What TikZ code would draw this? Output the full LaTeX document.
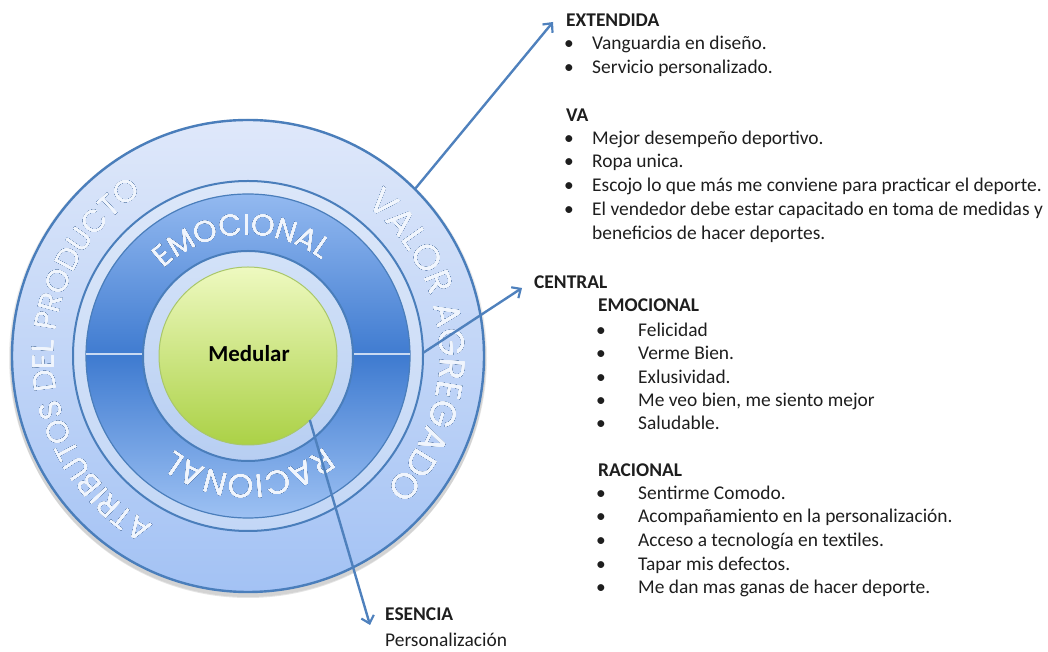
\documentclass[tikz,border=0pt]{standalone}
\usepackage{fontspec}
\setmainfont{Carlito}
\newfontfamily\arcfont{Poppins}
\usetikzlibrary{arrows.meta,decorations.text}
\definecolor{ringline}{HTML}{4A7EBB}
\definecolor{outtop}{HTML}{DFE8FA}
\definecolor{outbot}{HTML}{A3C2F4}
\definecolor{midtop}{HTML}{DCE7F9}
\definecolor{midbot}{HTML}{C3D7F6}
\definecolor{ringA}{HTML}{93B9F0}
\definecolor{ringB}{HTML}{3F7BD0}
\definecolor{ringC}{HTML}{9DC1F3}
\definecolor{inntop}{HTML}{D3E2F8}
\definecolor{innbot}{HTML}{B7CEF2}
\definecolor{grtop}{HTML}{EEF9C0}
\definecolor{grbot}{HTML}{ABD146}
\definecolor{grline}{HTML}{A9C76A}
\definecolor{arrowc}{HTML}{4F81BD}
\definecolor{arcline}{HTML}{1F4E8C}
\definecolor{arcfill}{HTML}{F0F5FD}
\definecolor{arcglow}{HTML}{E4EDFB}
\definecolor{divc}{HTML}{C9D9F2}
\definecolor{txtc}{HTML}{1E1E1E}
\tikzset{
  txt/.style={anchor=base west, inner sep=0pt, font=\fontsize{19.5}{23}\selectfont, text=txtc},
  hdr/.style={anchor=base west, inner sep=0pt, font=\fontsize{19.5}{23}\selectfont\bfseries, text=txtc},
  bul/.style={anchor=base, inner sep=0pt, font=\fontsize{19.5}{23}\selectfont, text=txtc},
  conn/.style={draw=arrowc, line width=2.4bp, -{Straight Barb[length=7bp,width=13bp,line width=2.2bp]}},
  ringdraw/.style={draw=ringline, line width=2bp},
}
\newcommand\arclayer[6]{% #1 offset radius, #2 colour, #3 font size, #4 radius, #5 start, #6 end ; text in \arcstr
  \path[shift={#1}, decorate, decoration={text along path, text align=center,
      text/.expanded={|\noexpand\arcfont\noexpand\fontsize{#3}{#3}\noexpand\selectfont\noexpand\color{#2}|\arcstr}}]
      (c) ++(#5:#4) arc[start angle=#5, end angle=#6, radius=#4];
}
\newcommand\arctext[5]{% #1 font size, #2 radius, #3 start angle, #4 end angle, #5 text
  \def\arcstr{#5}%
  \begin{scope}[opacity=0.4]
  \foreach \sa in {0,45,...,315}{\arclayer{(\sa:4.2bp)}{arcglow}{#1}{#2}{#3}{#4}}
  \end{scope}
  \foreach \sa in {0,30,...,330}{\arclayer{(\sa:2.5bp)}{arcline}{#1}{#2}{#3}{#4}}
  \foreach \sa in {0,45,...,315}{\arclayer{(\sa:1.3bp)}{arcline}{#1}{#2}{#3}{#4}}
  \foreach \sa in {0,90,180,270}{\arclayer{(\sa:0.6bp)}{arcfill}{#1}{#2}{#3}{#4}}
  \arclayer{(0,0)}{arcfill}{#1}{#2}{#3}{#4}
}
\begin{document}
\begin{tikzpicture}[x=1bp,y=1bp]
\useasboundingbox (0,0) rectangle (1048,652);
\coordinate (c) at (248,296);
% shadow
\fill[black, opacity=0.10] (248,292) circle (238);
\fill[black, opacity=0.08] (248,294) circle (239);
% outer disk
\shade[top color=outtop, bottom color=outbot] (c) circle (236);
\draw[draw=ringline, line width=2.4bp] (c) circle (236);
% middle disk
\shade[top color=midtop, bottom color=midbot] (c) circle (175);
\draw[ringdraw] (c) circle (175);
% dark ring halves
\shade[top color=ringA, bottom color=ringB]
  (c) ++(162,0) arc[start angle=0, end angle=180, radius=162] -- ++(57,0)
  arc[start angle=180, end angle=0, radius=105] -- cycle;
\shade[top color=ringB, bottom color=ringC]
  (c) ++(162,0) arc[start angle=0, end angle=-180, radius=162] -- ++(57,0)
  arc[start angle=-180, end angle=0, radius=105] -- cycle;
\draw[draw=ringline, line width=1.2bp] (c) circle (162);
\draw[divc, line width=2bp] (c) ++(-162,2) -- ++(57,0);
\draw[divc, line width=2bp] (c) ++(105,2) -- ++(57,0);
% inner disk
\shade[top color=inntop, bottom color=innbot] (c) circle (105);
\draw[ringdraw] (c) circle (105);
% green core
\shade[top color=grtop, bottom color=grbot] (c) circle (89);
\draw[grline, line width=1bp] (c) circle (89);
\node[font=\fontsize{23}{23}\selectfont\bfseries, text=black] (med) at (249,298) {Medular};
% arc texts
\arctext{31}{194}{262}{102}{ATRIBUTOS DEL PRODUCTO}
\arctext{36}{192}{84}{-76}{VALOR AGREGADO}
\arctext{30}{121}{153}{33}{EMOCIONAL}
\arctext{33}{119}{-29}{-149}{RACIONAL}
% connector end points
\coordinate (s1) at ([shift={(45:236)}]c);
\coordinate (e1) at (553,630);
\coordinate (s2) at ([shift={(1:175)}]c);
\coordinate (e2) at (522,364);
\coordinate (s3) at ([shift={(-46:89)}]c);
\coordinate (e3) at (370,27);
\draw[conn] (s1) -- (e1);
\draw[conn] (s2) -- (e2);
\draw[conn] (s3) -- (e3);
% top block
\node[hdr] (h1) at (566,625) {EXTENDIDA};
\node[bul] (b1) at (569,602) {•};
\node[txt] (t1) at (592,602) {Vanguardia en diseño.};
\node[bul] (b2) at (569,578) {•};
\node[txt] (t2) at (592,578) {Servicio personalizado.};
\node[hdr] (h2) at (566,530) {VA};
\node[bul] (b3) at (569,507) {•};
\node[txt] (t3) at (592,507) {Mejor desempeño deportivo.};
\node[bul] (b4) at (569,484) {•};
\node[txt] (t4) at (592,484) {Ropa unica.};
\node[bul] (b5) at (569,460) {•};
\node[txt] (t5) at (592,460) {Escojo lo que más me conviene para practicar el deporte.};
\node[bul] (b6) at (569,436) {•};
\node[txt] (t6) at (592,436) {El vendedor debe estar capacitado en toma de medidas y};
\node[txt] (t7) at (592,412) {beneficios de hacer deportes.};
% central block
\node[hdr] (h3) at (534,363) {CENTRAL};
\node[hdr] (h4) at (598,340) {EMOCIONAL};
\node[bul] (b8) at (601,315) {•};
\node[txt] (t8) at (638,315) {Felicidad};
\node[bul] (b9) at (601,292) {•};
\node[txt] (t9) at (638,292) {Verme Bien.};
\node[bul] (b10) at (601,268) {•};
\node[txt] (t10) at (638,268) {Exlusividad.};
\node[bul] (b11) at (601,245) {•};
\node[txt] (t11) at (638,245) {Me veo bien, me siento mejor};
\node[bul] (b12) at (601,222) {•};
\node[txt] (t12) at (638,222) {Saludable.};
\node[hdr] (h5) at (598,175) {RACIONAL};
\node[bul] (b13) at (601,152) {•};
\node[txt] (t13) at (638,152) {Sentirme Comodo.};
\node[bul] (b14) at (601,129) {•};
\node[txt] (t14) at (638,129) {Acompañamiento en la personalización.};
\node[bul] (b15) at (601,105) {•};
\node[txt] (t15) at (638,105) {Acceso a tecnología en textiles.};
\node[bul] (b16) at (601,81) {•};
\node[txt] (t16) at (638,81) {Tapar mis defectos.};
\node[bul] (b17) at (601,58) {•};
\node[txt] (t17) at (638,58) {Me dan mas ganas de hacer deporte.};
% esencia
\node[hdr] (h6) at (385,31) {ESENCIA};
\node[txt] (t18) at (385,5) {Personalización};
\end{tikzpicture}
\end{document}
